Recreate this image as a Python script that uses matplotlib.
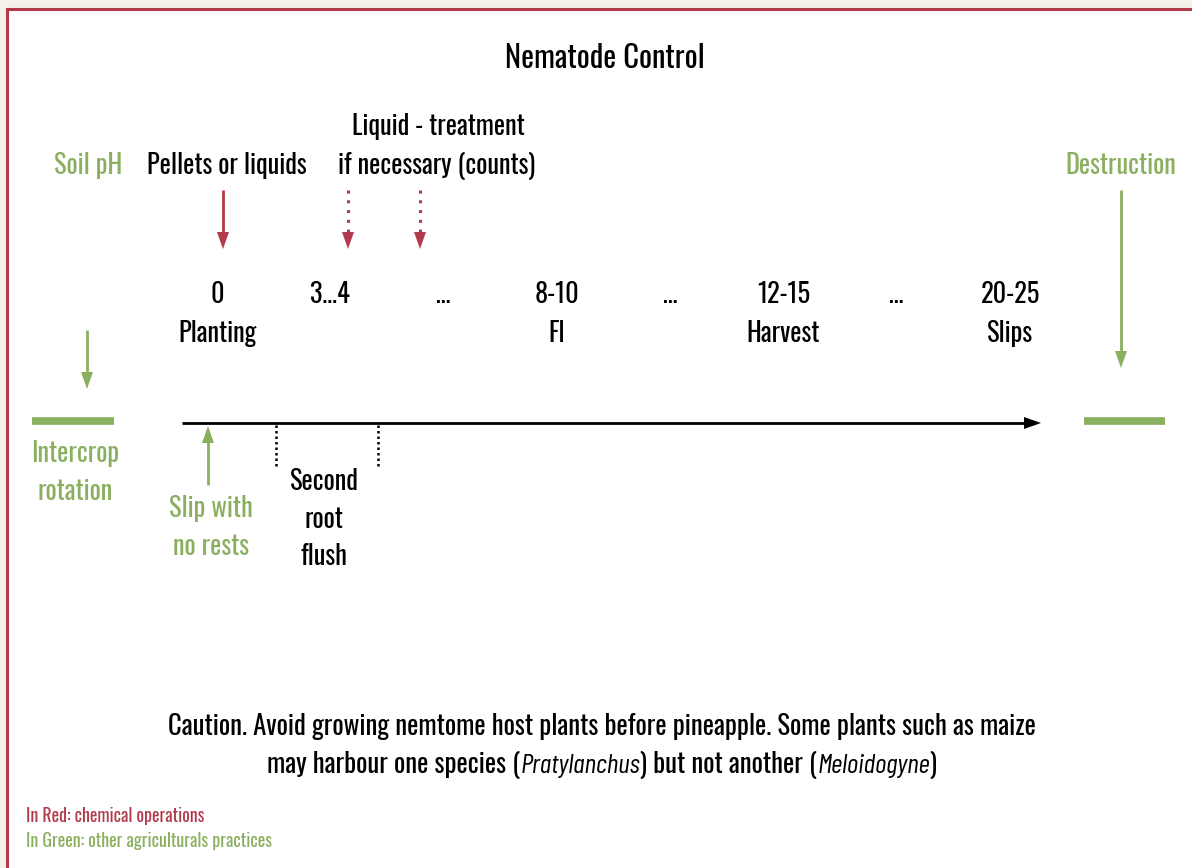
import matplotlib
matplotlib.use("Agg")
import matplotlib.pyplot as plt
from matplotlib.patches import Rectangle

RED = "#B33A4C"
GREEN = "#8AAF5F"
BEIGE = "#F5F2EB"

title = "Nematode Control"
months = ["0", "3\u20264", "\u2026", "8-10", "\u2026", "12-15", "\u2026", "20-25"]
stages = ["Planting", "", "", "FI", "", "Harvest", "", "Slips"]
red_solid_label = "Pellets or liquids"
red_dotted_label = ["Liquid - treatment", "if necessary (counts)"]
left_top_label = "Soil pH"
right_top_label = "Destruction"
left_bottom_label = ["Intercrop", "rotation"]
slip_label = ["Slip with", "no rests"]
flush_label = ["Second", "root", "flush"]
caution_line1 = "Caution. Avoid growing nemtome host plants before pineapple. Some plants such as maize"
caution_line2 = [("may harbour one species (", "normal"), ("Pratylanchus", "italic"),
                 (") but not another (", "normal"), ("Meloidogyne", "italic"), (")", "normal")]
legend_red = "In Red: chemical operations"
legend_green = "In Green: other agriculturals practices"

FONT = dict(family=["Oswald", "DejaVu Sans"])
IFONT = dict(family=["Barlow Condensed", "Roboto Condensed", "DejaVu Sans"], style="italic")

W, H = 1192, 868
fig = plt.figure(figsize=(W / 100, H / 100), dpi=100, facecolor=BEIGE)
ax = fig.add_axes([0, 0, 1, 1])
ax.set_xlim(0, W)
ax.set_ylim(H, 0)
ax.axis("off")

ax.add_patch(Rectangle((7, 9), 1300, 1000, facecolor="white", edgecolor=RED, lw=2.2, zorder=0))

fs = 19


def txt(x, y, s, color="black", size=fs, ha="center", **kw):
    return ax.text(x, y, s, ha=ha, va="baseline", fontsize=size, color=color, **{**FONT, **kw})


txt(605, 68, title, size=22)

# timeline columns
x0, dx = 217, 113.3
for i, (m, s) in enumerate(zip(months, stages)):
    x = x0 + i * dx
    txt(x, 303, m)
    if s:
        txt(x, 342, s)


def arrow(x, y0, y1, color, ls="-", lw=2.0, head=(12, 17)):
    sign = 1 if y1 > y0 else -1
    yh = y1 - sign * head[1]
    ax.plot([x, x], [y0, yh + sign * 1], color=color, lw=lw, ls=ls, solid_capstyle="butt")
    ax.fill([x - head[0] / 2, x + head[0] / 2, x], [yh, yh, y1], color=color, lw=0)


# red arrows
txt(227, 174, red_solid_label)
arrow(223, 190, 249, RED)
txt(438, 135, red_dotted_label[0])
txt(437, 174, red_dotted_label[1])
arrow(348, 190, 249, RED, ls=(0, (1, 2.2)), lw=2.2)
arrow(420, 190, 249, RED, ls=(0, (1, 2.2)), lw=2.2)

# green side items
txt(88, 174, left_top_label, color=GREEN)
arrow(87, 330, 389, GREEN)
ax.plot([32, 114], [421, 421], color=GREEN, lw=5.5, solid_capstyle="butt")
txt(75, 462, left_bottom_label[0], color=GREEN)
txt(75, 500, left_bottom_label[1], color=GREEN)

txt(1121, 174, right_top_label, color=GREEN)
arrow(1121, 190, 368, GREEN)
ax.plot([1084, 1165], [421, 421], color=GREEN, lw=5.5, solid_capstyle="butt")

# main timeline
ax.plot([182, 1025], [423, 423], color="black", lw=2.0, solid_capstyle="butt")
ax.fill([1024, 1024, 1041], [417, 429, 423], color="black", lw=0)

# slip arrow
arrow(208, 485, 426, GREEN)
txt(211, 517, slip_label[0], color=GREEN)
txt(211, 555, slip_label[1], color=GREEN)

# second root flush
for xd in (276, 378):
    ax.plot([xd, xd], [425, 466], color="black", lw=1.8, ls=(0, (1, 1.2)))
for yb, t in zip((490, 528, 565), flush_label):
    txt(324, yb, t)

# caution
txt(602, 735, caution_line1, size=19.3)
fig.canvas.draw()
r = fig.canvas.get_renderer()
parts = []
total = 0
for s, style in caution_line2:
    if style == "italic":
        t = ax.text(0, 773, s, ha="left", va="baseline", fontsize=20, **IFONT)
    else:
        t = txt(0, 773, s, ha="left", size=19.3)
    bb = t.get_window_extent(renderer=r)
    parts.append((t, bb.width))
    total += bb.width
xs = 602 - total / 2
for t, w in parts:
    t.set_x(xs)
    xs += w

txt(26, 822, legend_red, color=RED, size=12.8, ha="left")
txt(26, 847, legend_green, color=GREEN, size=12.8, ha="left")

fig.savefig("out.png", dpi=100, facecolor=BEIGE)
